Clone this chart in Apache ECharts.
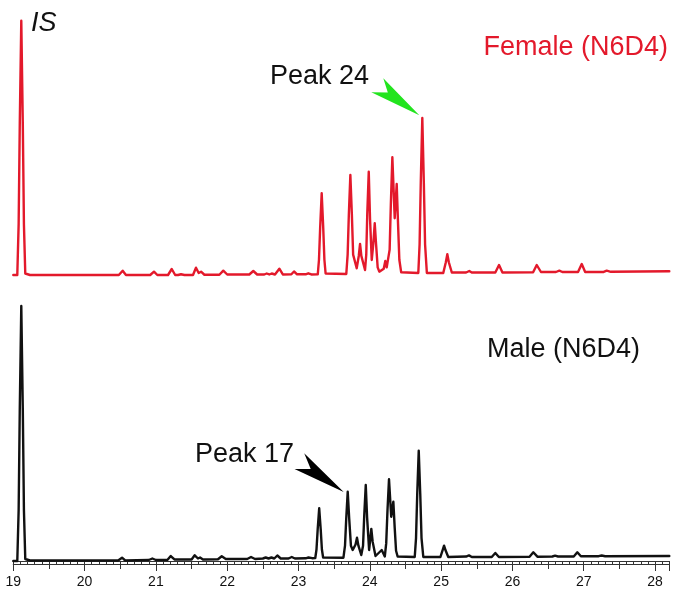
<!DOCTYPE html>
<html>
<head>
<meta charset="utf-8">
<script src="https://cdn.jsdelivr.net/npm/echarts@6/dist/echarts.min.js"></script>
<style>
  html, body { margin: 0; padding: 0; background: #ffffff; }
  #chart { width: 677px; height: 597px; }
</style>
</head>
<body>
<div id="chart"></div>
<script>
// Retention time (min) vs. relative abundance (internal standard = 100)
const femaleTrace = [
  [19.00, 0], [19.056, 0], [19.075, 20], [19.091, 60], [19.112, 100], [19.133, 60],
  [19.149, 20], [19.168, 0.59], [19.234, 0],
  [20.48, 0], [20.534, 1.69], [20.58, 0],
  [20.92, 0], [20.973, 1.30], [21.02, 0],
  [21.17, 0], [21.222, 2.36], [21.27, 0],
  [21.31, 0], [21.352, 0.28], [21.40, 0],
  [21.52, 0], [21.562, 2.87], [21.60, 0.79], [21.633, 1.30], [21.68, 0.1],
  [21.89, 0.1], [21.945, 1.69], [22.00, 0.2],
  [22.31, 0.2], [22.366, 1.57], [22.42, 0.2],
  [22.52, 0.2], [22.554, 0.59], [22.59, 0.2], [22.624, 0.59], [22.67, 0.2],
  [22.69, 0.2], [22.731, 2.48], [22.78, 0.2],
  [22.90, 0.28], [22.937, 1.38], [22.98, 0.28],
  [23.10, 0.28], [23.137, 0.67], [23.18, 0.2],
  [23.27, 0.28], [23.287, 6], [23.304, 19], [23.325, 32.13], [23.346, 19], [23.363, 6], [23.38, 0.59],
  [23.67, 0.39], [23.689, 8], [23.706, 24], [23.727, 39.32], [23.748, 24], [23.766, 8],
  [23.816, 2.63], [23.845, 7.5], [23.863, 12.19], [23.881, 7.5], [23.933, 1.97],
  [23.950, 8], [23.964, 24], [23.985, 40.62], [24.003, 22], [24.027, 5.90],
  [24.048, 12], [24.069, 20.33], [24.088, 12], [24.110, 3], [24.133, 1.30],
  [24.195, 2.5], [24.217, 5.51], [24.237, 3], [24.259, 2.75],
  [24.278, 10], [24.295, 28], [24.316, 46.28], [24.349, 22.30], [24.377, 35.78],
  [24.396, 20], [24.414, 6], [24.44, 1.06],
  [24.68, 0.79], [24.698, 12], [24.715, 37], [24.736, 61.74], [24.757, 37], [24.775, 12], [24.80, 0.79],
  [25.03, 0.79], [25.066, 5], [25.087, 8.14], [25.108, 5], [25.15, 0.98],
  [25.35, 0.98], [25.395, 1.57], [25.43, 0.98],
  [25.76, 0.98], [25.812, 3.93], [25.86, 0.98],
  [26.29, 1.06], [26.341, 3.93], [26.40, 1.18],
  [26.61, 1.18], [26.658, 1.69], [26.70, 1.18],
  [26.92, 1.18], [26.972, 4.33], [27.02, 1.18],
  [27.28, 1.20], [27.322, 1.69], [27.38, 1.26],
  [28.20, 1.45]
];

const maleTrace = [
  [19.00, 0], [19.056, 0], [19.075, 20], [19.091, 60], [19.112, 100], [19.133, 60],
  [19.149, 20], [19.168, 0.78], [19.234, 0.2],
  [20.47, 0.2], [20.525, 1.29], [20.57, 0.2],
  [20.90, 0.39], [20.950, 0.98], [21.00, 0.39],
  [21.16, 0.39], [21.208, 1.96], [21.26, 0.59],
  [21.50, 0.59], [21.544, 2.24], [21.59, 0.98], [21.619, 1.37], [21.66, 0.59],
  [21.87, 0.67], [21.923, 1.84], [21.98, 0.78],
  [22.28, 0.78], [22.334, 1.57], [22.39, 0.78],
  [22.50, 0.98], [22.54, 1.37], [22.58, 0.98], [22.62, 1.37], [22.66, 0.98],
  [22.703, 2.16], [22.75, 0.98],
  [22.86, 0.98], [22.905, 1.57], [22.95, 0.98],
  [23.10, 1.06], [23.14, 1.37], [23.19, 1.10],
  [23.235, 1.18], [23.252, 4.5], [23.269, 12.5], [23.290, 20.67], [23.311, 12.5], [23.328, 4.5], [23.345, 1.37],
  [23.63, 1.29], [23.652, 6], [23.669, 16.5], [23.690, 27.18], [23.711, 16.5], [23.735, 6],
  [23.76, 4.31], [23.800, 6.5], [23.820, 9.14], [23.840, 6], [23.88, 2.35],
  [23.905, 6], [23.922, 18], [23.943, 29.80], [23.962, 17], [23.99, 4.31],
  [24.021, 12.55], [24.040, 7.5], [24.08, 1.96],
  [24.167, 4.31], [24.21, 1.76], [24.230, 7], [24.248, 20], [24.269, 32.04], [24.30, 17.37],
  [24.330, 23.25], [24.349, 13], [24.368, 4], [24.39, 1.76],
  [24.63, 1.57], [24.648, 9], [24.665, 26.5], [24.686, 43.25], [24.707, 26.5], [24.725, 9], [24.75, 1.57],
  [24.99, 1.57], [25.02, 4.2], [25.041, 6.00], [25.062, 4.2], [25.10, 1.57],
  [25.35, 1.76], [25.391, 2.20], [25.43, 1.57],
  [25.71, 1.57], [25.760, 3.14], [25.81, 1.57],
  [26.24, 1.69], [26.293, 3.41], [26.35, 1.69],
  [26.56, 1.76], [26.598, 2.08], [26.64, 1.76],
  [26.86, 1.76], [26.910, 3.41], [26.96, 1.84],
  [27.21, 1.88], [27.252, 2.16], [27.30, 1.88],
  [28.20, 1.96]
];

const timeMin = 19;
const timeMax = 28.2;
const tickLabels = ['19', '20', '21', '22', '23', '24', '25', '26', '27', '28'];

// Annotated peaks: retention times of the flagged peaks
const femaleMarkedTime = 24.736;
const maleMarkedTime = 23.690;

const RED = '#e3192b';
const GREEN = '#22e41e';
const FONT = "'Liberation Sans', Arial, sans-serif";

const chart = echarts.init(document.getElementById('chart'), null, { renderer: 'canvas' });

const gridLeft = 13.3;
const gridRight = 7.7;

function hiddenX(gridIndex) {
  return {
    type: 'value', gridIndex, min: timeMin, max: timeMax,
    show: false, splitLine: { show: false }
  };
}

function tickAxis(interval, len, withLabels) {
  return {
    type: 'value', gridIndex: 1, min: timeMin, max: timeMax, interval,
    position: 'bottom', offset: 3,
    axisLine: { show: true, lineStyle: { color: '#333', width: 1 } },
    axisTick: { show: true, length: len, lineStyle: { color: '#333', width: 1 } },
    splitLine: { show: false },
    axisLabel: withLabels ? {
      show: true, interval: 0, margin: 11, color: '#111',
      fontFamily: FONT, fontSize: 14,
      formatter: v => {
        const s = String(Math.round(v));
        return Math.abs(v - Math.round(v)) < 1e-6 && tickLabels.includes(s) ? s : '';
      }
    } : { show: false }
  };
}

const option = {
  animation: false,
  backgroundColor: '#ffffff',
  grid: [
    { left: gridLeft, right: gridRight, top: 20.7, height: 254.3 },
    { left: gridLeft, right: gridRight, top: 306, height: 255 }
  ],
  xAxis: [
    hiddenX(0),
    tickAxis(0.1, 3, false),
    tickAxis(0.5, 5, false),
    tickAxis(1, 7, true)
  ],
  yAxis: [
    { type: 'value', gridIndex: 0, min: 0, max: 100, show: false, splitLine: { show: false } },
    { type: 'value', gridIndex: 1, min: 0, max: 100, show: false, splitLine: { show: false } }
  ],
  series: [
    {
      name: 'Female (N6D4)', type: 'line', xAxisIndex: 0, yAxisIndex: 0,
      data: femaleTrace, showSymbol: false, symbol: 'none', clip: false,
      lineStyle: { color: RED, width: 2.4, join: 'round', cap: 'round' }
    },
    {
      name: 'Male (N6D4)', type: 'line', xAxisIndex: 1, yAxisIndex: 1,
      data: maleTrace, showSymbol: false, symbol: 'none', clip: false,
      lineStyle: { color: '#111', width: 2.4, join: 'round', cap: 'round' }
    }
  ]
};

chart.setOption(option);

// Arrowheads anchored to the flagged peak apexes
function arrowAt(tip, pts, color) {
  return {
    type: 'polygon',
    shape: { points: pts.map(p => [tip[0] + p[0], tip[1] + p[1]]) },
    style: { fill: color, stroke: null },
    z: 10
  };
}

const fApex = femaleTrace.find(p => p[0] === femaleMarkedTime);
const mApex = maleTrace.find(p => p[0] === maleMarkedTime);
const fPix = chart.convertToPixel({ xAxisIndex: 0, yAxisIndex: 0 }, fApex);
const mPix = chart.convertToPixel({ xAxisIndex: 1, yAxisIndex: 1 }, mApex);
const fTip = [fPix[0] - 3, fPix[1] - 2.7];
const mTip = [mPix[0] - 4, mPix[1] + 0.3];

function label(text, x, y, opts) {
  return {
    type: 'text', x, y, z: 11,
    style: Object.assign({
      text, fill: '#111', font: '27px ' + FONT,
      textAlign: 'left', textVerticalAlign: 'middle'
    }, opts || {})
  };
}

chart.setOption({
  graphic: [
    arrowAt(fTip, [[0, 0], [-36, -37], [-31.5, -22.8], [-48, -23]], GREEN),
    arrowAt(mTip, [[0, 0], [-39.5, -38.7], [-33, -23], [-49.2, -23]], '#000'),
    label('IS', 31, 23, { font: 'italic 27px ' + FONT }),
    label('Female (N6D4)', 668, 48, { fill: RED, textAlign: 'right' }),
    label('Male (N6D4)', 640, 350, { textAlign: 'right' }),
    label('Peak 24', 270, 77),
    label('Peak 17', 195, 455)
  ]
});
</script>
</body>
</html>
